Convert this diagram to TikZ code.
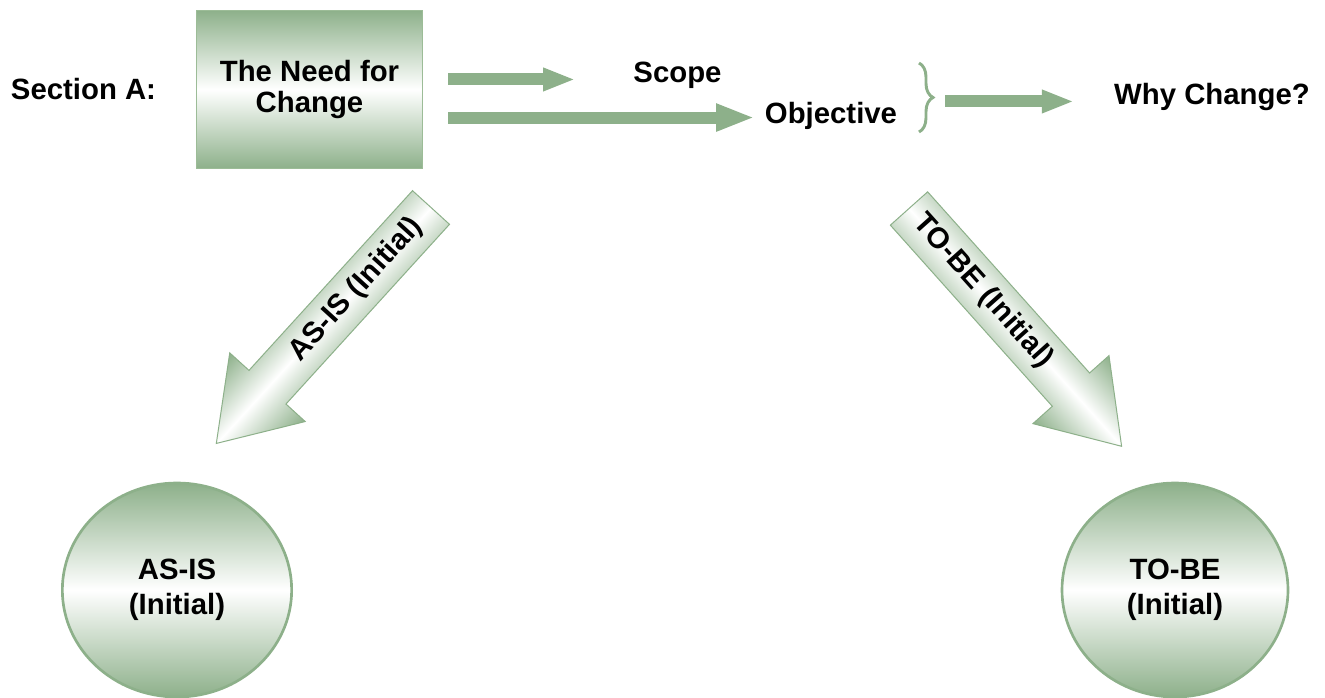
\documentclass[tikz,border=0pt]{standalone}
\usepackage{fontspec}
\setmainfont{Liberation Sans}
\usetikzlibrary{arrows.meta,shapes.geometric,decorations.pathreplacing,calc}
\definecolor{sage}{RGB}{141,176,138}
\definecolor{sageedge}{RGB}{156,188,151}

\begin{document}
\begin{tikzpicture}[x=0.75pt,y=0.75pt,
  lbl/.style={font=\fontsize{22pt}{26pt}\selectfont\bfseries, inner sep=0pt, anchor=base},
  flow/.style={draw=sage, line width=9pt, -{Triangle[length=24pt,width=16pt]}},
  flowbig/.style={draw=sage, line width=9pt, -{Triangle[length=29pt,width=19pt]}},
  gradfill/.style={top color=sage, bottom color=sage, middle color=white},
  needbox/.style={gradfill, draw=sageedge, line width=0.9pt, rectangle,
    minimum width=170pt, minimum height=119pt, inner sep=0pt, align=center,
    font=\fontsize{22pt}{23.25pt}\selectfont\bfseries},
  statecircle/.style={gradfill, draw=sage, line width=2pt, ellipse, inner sep=0pt,
    minimum height=160.5pt, align=center,
    font=\fontsize{22pt}{26.5pt}\selectfont\bfseries},
  bigarrow/.style={gradfill, draw=sage, line width=0.75pt, line join=miter},
  bracestyle/.style={draw=sage, line width=2.2pt,
    decorate, decoration={brace, amplitude=10.5pt}}
]
\useasboundingbox (0,0) rectangle (1325,-698);

% top row
\node[lbl] (section) at (83.5,-100) {Section A:};
\node[needbox] (need) at (309.5,-89.5) {The Need for\\Change};
\node[lbl] (scope) at (677.5,-83) {Scope};
\node[lbl] (objective) at (831,-124) {Objective};
\node[lbl] (why) at (1212,-105) {Why Change?};

\draw[flow, shorten <=18.75pt, shorten >=43.5pt]
  (need.east |- scope.mid west) -- (scope.mid west);
\path ([yshift=2.2pt]objective.mid west) coordinate (objin);
\draw[flowbig, shorten <=18.75pt, shorten >=7.5pt]
  (need.east |- objin) -- (objin);

% brace grouping Scope and Objective
\draw[bracestyle] (919,-63) -- (919,-132);
\coordinate (bracetip) at (933,-97.5);
\draw[flow, shorten <=9pt, shorten >=30pt]
  (bracetip |- why.mid west) -- (why.mid west);

% wide arrows down to the two states
\begin{scope}[transform canvas={shift={(431,-207.5)}, rotate=227.7}]
  \shade[bigarrow] (0,25) -- (243,25) -- (243,51) -- (319,0)
    -- (243,-51) -- (243,-25) -- (0,-25) -- cycle;
\end{scope}
\begin{scope}[transform canvas={shift={(909,-208.5)}, rotate=-48.2}]
  \shade[bigarrow] (0,25) -- (243,25) -- (243,51) -- (319,0)
    -- (243,-51) -- (243,-25) -- (0,-25) -- cycle;
\end{scope}
\node[lbl, anchor=center, rotate=47.7] (asislbl) at (356.3,-289.6) {AS-IS (Initial)};
\node[lbl, anchor=center, rotate=-48.2] (tobelbl) at (982.9,-291.3) {TO-BE (Initial)};

% states
\node[statecircle, minimum width=172pt] (asis) at (177,-590) {AS-IS\\(Initial)};
\node[statecircle, minimum width=169.5pt] (tobe) at (1175,-590) {TO-BE\\(Initial)};
\end{tikzpicture}
\end{document}
